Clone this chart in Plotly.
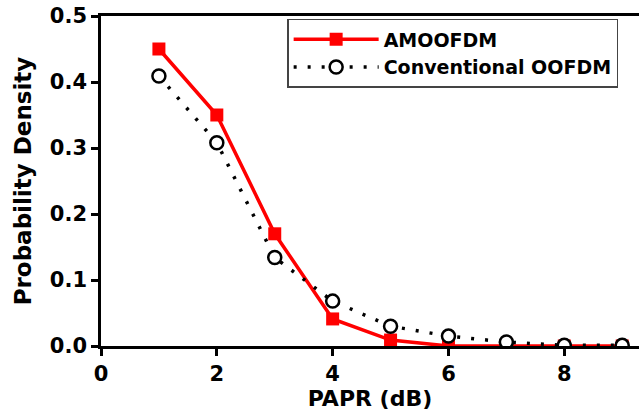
import plotly.graph_objects as go

papr_db = [1, 2, 3, 4, 5, 6, 7, 8, 9]
amoofdm = [0.45, 0.35, 0.17, 0.041, 0.009, 0.0, 0.0, 0.0, 0.0]
conventional = [0.409, 0.308, 0.134, 0.068, 0.030, 0.015, 0.006, 0.001, 0.001]
x_ticks = [0, 2, 4, 6, 8]
y_ticks = [0.0, 0.1, 0.2, 0.3, 0.4, 0.5]

FONT = "DejaVu Sans"

fig = go.Figure()
fig.add_trace(go.Scatter(
    x=papr_db, y=amoofdm, name="<b>AMOOFDM</b>", mode="lines+markers",
    line=dict(color="#ff0000", width=3.5),
    marker=dict(symbol="square", size=13, color="#ff0000"),
))
fig.add_trace(go.Scatter(
    x=papr_db, y=conventional, name="<b>Conventional OOFDM</b>", mode="lines+markers",
    line=dict(color="black", width=3.5, dash="3px,11px"),
    marker=dict(symbol="circle", size=13, color="white",
                line=dict(color="black", width=2.5)),
))

fig.update_layout(
    width=639, height=413,
    margin=dict(l=101, r=0, t=16, b=67),
    paper_bgcolor="white", plot_bgcolor="white",
    font=dict(family=FONT, size=18, color="black"),
    showlegend=True,
    legend=dict(
        x=0.346, y=0.991, xanchor="left", yanchor="top",
        bordercolor="#444444", borderwidth=1.5, bgcolor="white",
        font=dict(family=FONT, size=19, color="black"),
        tracegroupgap=0, itemwidth=85,
    ),
    xaxis=dict(
        range=[0, 9.29], tickvals=x_ticks, ticktext=[f"<b>{v}</b>" for v in x_ticks],
        showgrid=False, zeroline=False, showline=True, linecolor="black", linewidth=2.5,
        mirror=True, ticks="outside", ticklen=7, tickwidth=2.5, tickcolor="black",
        tickfont=dict(family=FONT, size=21),
        title=dict(text="<b>PAPR (dB)</b>", font=dict(family=FONT, size=22), standoff=3),
    ),
    yaxis=dict(
        range=[0, 0.5], tickvals=y_ticks, ticktext=[f"<b>{v:.1f}</b>" for v in y_ticks],
        showgrid=False, zeroline=False, showline=True, linecolor="black", linewidth=2.5,
        ticks="outside", ticklen=7, tickwidth=2.5, tickcolor="black",
        tickfont=dict(family=FONT, size=21),
        title=dict(text="<b>Probability Density</b>", font=dict(family=FONT, size=23), standoff=12),
    ),
)

fig.write_html(
    "out.html",
    config={"displayModeBar": False},
    post_script="document.body.style.margin='0';document.body.style.overflow='hidden';",
)
